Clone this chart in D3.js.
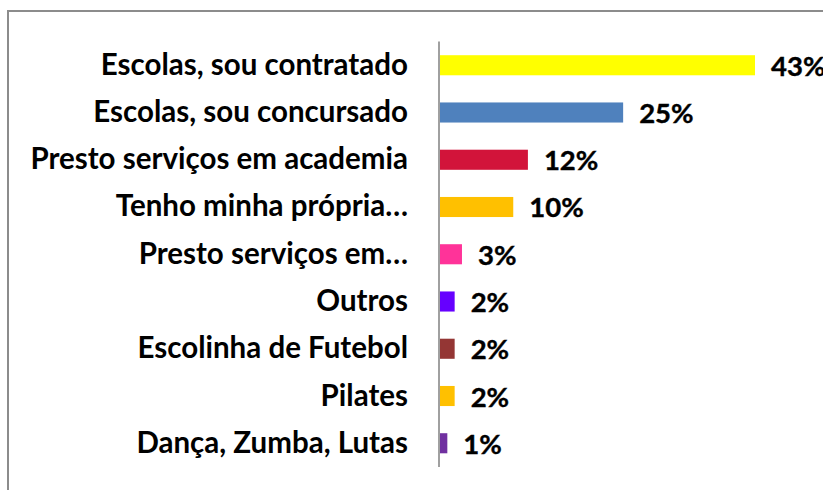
<!DOCTYPE html>
<html>
<head>
<meta charset="utf-8">
<script src="https://cdn.jsdelivr.net/npm/d3@7"></script>
<style>
  html, body { margin: 0; padding: 0; background: #fff; overflow: hidden; }
  text { font-family: Lato, "Open Sans", sans-serif; font-weight: bold; fill: #000; }
</style>
</head>
<body>
<div id="chart"></div>
<script>
var categories = [
    "Escolas, sou contratado",
    "Escolas, sou concursado",
    "Presto serviços em academia",
    "Tenho minha própria…",
    "Presto serviços em…",
    "Outros",
    "Escolinha de Futebol",
    "Pilates",
    "Dança, Zumba, Lutas"
];
var values = [43, 25, 12, 10, 3, 2, 2, 2, 1];
var colors = ["#FFFF00", "#4F81BD", "#D2143A", "#FFC000", "#FF3399", "#6600FF", "#943634", "#FFC000", "#7030A0"];

function init() {
    var w = 823;
    var h = 490;
    var svg = d3.select("#chart").append("svg")
                .attr("width", w)
                .attr("height", h);

    // outer chart frame, runs off the right and bottom edges
    svg.append("rect")
        .attr("x", 8)
        .attr("y", 11)
        .attr("width", 830)
        .attr("height", 500)
        .attr("fill", "none")
        .attr("stroke", "#8c8c8c")
        .attr("stroke-width", 2);

    var xScale = d3.scaleLinear()
        .domain([0, 43])
        .range([440, 755]);

    var yScale = d3.scaleBand()
        .domain(categories)
        .range([41.5, 467])
        .paddingInner(0.575)
        .paddingOuter(0.29);

    var data = categories.map((c, i) => ({ cat: c, val: values[i], color: colors[i] }));

    svg.selectAll("rect.bar")
        .data(data)
        .enter()
        .append("rect")
        .attr("class", "bar")
        .attr("x", xScale(0))
        .attr("y", d => yScale(d.cat))
        .attr("width", d => xScale(d.val) - xScale(0))
        .attr("height", yScale.bandwidth())
        .attr("fill", d => d.color);

    // category labels
    svg.selectAll("text.cat")
        .data(data)
        .enter()
        .append("text")
        .attr("class", "cat")
        .attr("x", 408)
        .attr("y", d => yScale(d.cat) + yScale.bandwidth() / 2 + 9.5)
        .style("text-anchor", "end")
        .style("font-size", "29.5px")
        .text(d => d.cat);

    // value labels
    svg.selectAll("text.val")
        .data(data)
        .enter()
        .append("text")
        .attr("class", "val")
        .attr("x", d => xScale(d.val) + 16)
        .attr("y", d => yScale(d.cat) + yScale.bandwidth() / 2 + 10.5)
        .style("font-size", "27.5px")
        .style("stroke", "#000")
        .style("stroke-width", 0.4)
        .text(d => d.val + "%");

    // vertical axis line
    svg.append("line")
        .attr("x1", 439)
        .attr("x2", 439)
        .attr("y1", 41.5)
        .attr("y2", 467)
        .attr("stroke", "#a0a0a0")
        .attr("stroke-width", 2);
}

window.onload = init;
</script>
</body>
</html>
